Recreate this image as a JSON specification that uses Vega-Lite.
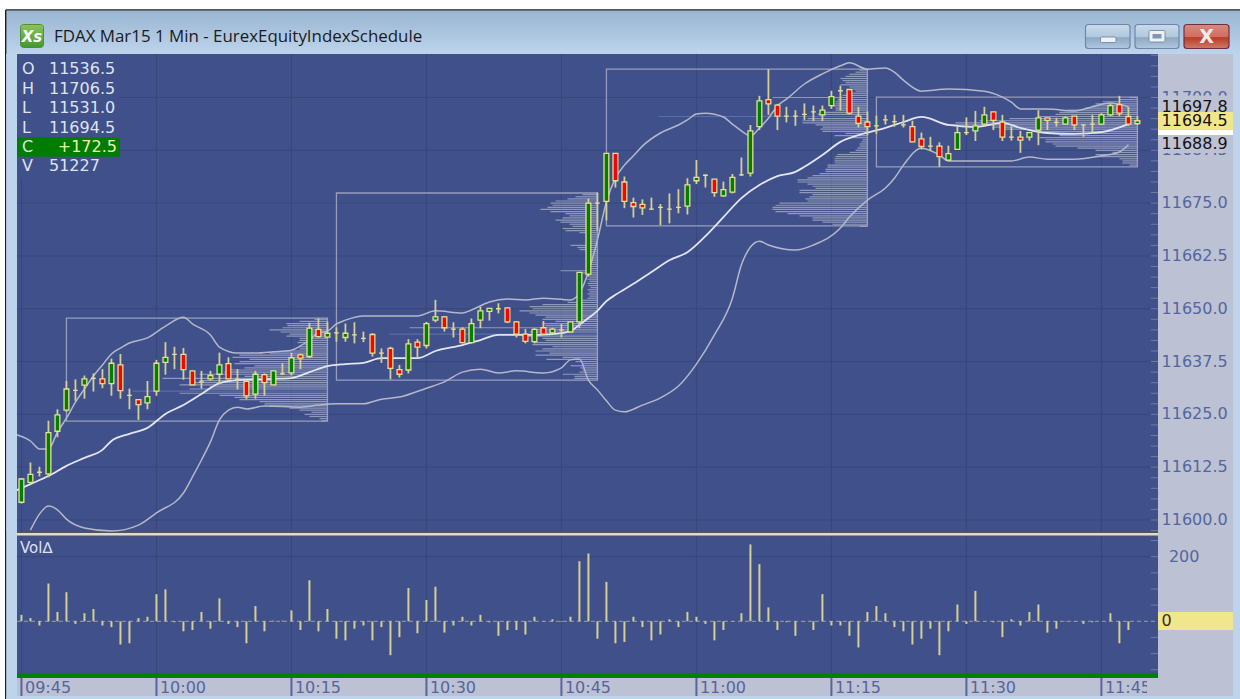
{"$schema":"https://vega.github.io/schema/vega-lite/v6.json","width":1240,"height":699,"padding":0,"autosize":{"type":"fit","contains":"padding"},"background":"#ffffff","view":{"fill":"#bcc2d3","stroke":null},"data":{"values":[{}]},"resolve":{"scale":{"x":"independent","y":"independent"}},
"layer":[
{"layer":[
{"mark":{"type":"rect","color":"#ffffff"},"encoding":{"x":{"datum":0,"axis":null,"scale":{"domain":[0,1240],"nice":false,"zero":false}},"x2":{"datum":1240},"y":{"datum":0,"axis":null,"scale":{"domain":[699,0],"nice":false,"zero":false}},"y2":{"datum":9.5}}},
{"mark":{"type":"rect","color":"#ffffff"},"encoding":{"x":{"datum":0,"axis":null},"x2":{"datum":5},"y":{"datum":0,"axis":null},"y2":{"datum":699}}},
{"mark":{"type":"rect","color":{"gradient":"linear","x1":0,"y1":0,"x2":0,"y2":1,"stops":[{"offset":0,"color":"#99b5d1"},{"offset":1,"color":"#bdd4ec"}]}},"encoding":{"x":{"datum":6,"axis":null},"x2":{"datum":1240},"y":{"datum":10,"axis":null},"y2":{"datum":54}}},
{"mark":{"type":"rect","color":"#2a2a2a"},"encoding":{"x":{"datum":6,"axis":null},"x2":{"datum":1240},"y":{"datum":9.2,"axis":null},"y2":{"datum":10.4}}},
{"mark":{"type":"rect","color":"#1e1e1e"},"encoding":{"x":{"datum":5,"axis":null},"x2":{"datum":6.4},"y":{"datum":10,"axis":null},"y2":{"datum":699}}},
{"mark":{"type":"rect","color":"#bdd4ec"},"encoding":{"x":{"datum":6.4,"axis":null},"x2":{"datum":17},"y":{"datum":54,"axis":null},"y2":{"datum":699}}},
{"mark":{"type":"rect","color":"#bdd4ec"},"encoding":{"x":{"datum":1233,"axis":null},"x2":{"datum":1240},"y":{"datum":54,"axis":null},"y2":{"datum":699}}},
{"mark":{"type":"rect","color":"#bdd4ec"},"encoding":{"x":{"datum":6.4,"axis":null},"x2":{"datum":1240},"y":{"datum":696,"axis":null},"y2":{"datum":699}}},
{"mark":{"type":"rect","color":"#40508a"},"encoding":{"x":{"datum":17,"axis":null},"x2":{"datum":1158},"y":{"datum":54,"axis":null},"y2":{"datum":678}}}
]},
{"layer":[
{"data":{"values":[{"t":"09:45"},{"t":"10:00"},{"t":"10:15"},{"t":"10:30"},{"t":"10:45"},{"t":"11:00"},{"t":"11:15"},{"t":"11:30"},{"t":"11:45"}],"format":{"parse":{"t":"date:'%H:%M'"}}},"layer":[
{"mark":{"type":"rule","color":"#38467a","strokeWidth":1},"encoding":{"x":{"field":"t","type":"temporal","axis":null,"scale":{"type":"time","nice":false,"domain":[{"year":1900,"month":1,"date":1,"hours":9,"minutes":42,"seconds":37},{"year":1900,"month":1,"date":1,"hours":12,"minutes":0,"seconds":24}]}},"y":{"datum":11710.3,"axis":null,"scale":{"domain":[11557.63,11723.08],"nice":false,"zero":false}},"y2":{"datum":11563.8}}},
{"mark":{"type":"rule","color":"#5565a0","strokeWidth":2},"encoding":{"x":{"field":"t","type":"temporal","axis":null},"y":{"datum":11562.6,"axis":null},"y2":{"datum":11558.34}}},
{"mark":{"type":"text","align":"left","baseline":"middle","dx":3.5,"font":"DejaVu Sans","fontSize":16,"color":"#5565a0"},"encoding":{"text":{"field":"t","type":"temporal","format":"%H:%M"},"x":{"field":"t","type":"temporal","axis":null},"y":{"datum":11560.2,"axis":null}}}
]},
{"data":{"values":[{"p":11600},{"p":11612.5},{"p":11625},{"p":11637.5},{"p":11650},{"p":11662.5},{"p":11675},{"p":11687.5},{"p":11700}]},"layer":[
{"mark":{"type":"rule","color":"#38467a","strokeWidth":1},"encoding":{"y":{"field":"p","type":"quantitative","axis":null},"x":{"datum":{"year":1900,"month":1,"date":1,"hours":9,"minutes":44,"seconds":30},"type":"temporal","axis":null},"x2":{"datum":{"year":1900,"month":1,"date":1,"hours":11,"minutes":51,"seconds":17}}}},
{"mark":{"type":"text","align":"left","baseline":"middle","font":"DejaVu Sans","fontSize":16,"color":"#5565a0"},"encoding":{"text":{"field":"p","type":"quantitative","format":".1f"},"y":{"field":"p","type":"quantitative","axis":null},"x":{"datum":{"year":1900,"month":1,"date":1,"hours":11,"minutes":51,"seconds":41},"type":"temporal","axis":null}}}
]},
{"data":{"values":[{"p":11597.5},{"p":11600},{"p":11602.5},{"p":11605},{"p":11607.5},{"p":11610},{"p":11612.5},{"p":11615},{"p":11617.5},{"p":11620},{"p":11622.5},{"p":11625},{"p":11627.5},{"p":11630},{"p":11632.5},{"p":11635},{"p":11637.5},{"p":11640},{"p":11642.5},{"p":11645},{"p":11647.5},{"p":11650},{"p":11652.5},{"p":11655},{"p":11657.5},{"p":11660},{"p":11662.5},{"p":11665},{"p":11667.5},{"p":11670},{"p":11672.5},{"p":11675},{"p":11677.5},{"p":11680},{"p":11682.5},{"p":11685},{"p":11687.5},{"p":11690},{"p":11692.5},{"p":11695},{"p":11697.5},{"p":11700},{"p":11702.5},{"p":11705},{"p":11707.5},{"p":11710}]},"mark":{"type":"rule","color":"#6f7ba6","strokeWidth":1},"encoding":{"y":{"field":"p","type":"quantitative","axis":null},"x":{"datum":{"year":1900,"month":1,"date":1,"hours":11,"minutes":50,"seconds":30},"type":"temporal","axis":null},"x2":{"datum":{"year":1900,"month":1,"date":1,"hours":11,"minutes":51,"seconds":17}}}}
]},
{"layer":[
{"mark":{"type":"rect","color":"#bcc2d3"},"encoding":{"x":{"datum":1147,"axis":null,"scale":{"domain":[0,1240],"nice":false,"zero":false}},"x2":{"datum":1233},"y":{"datum":678,"axis":null,"scale":{"domain":[699,0],"nice":false,"zero":false}},"y2":{"datum":696}}},
{"mark":{"type":"rect","color":"#555555"},"encoding":{"x":{"datum":17,"axis":null},"x2":{"datum":1158},"y":{"datum":531.4,"axis":null},"y2":{"datum":536.6}}},
{"mark":{"type":"rect","color":"#dcdcd2"},"encoding":{"x":{"datum":17,"axis":null},"x2":{"datum":1158},"y":{"datum":533,"axis":null},"y2":{"datum":535.4}}},
{"mark":{"type":"rect","color":"#008000"},"encoding":{"x":{"datum":17,"axis":null},"x2":{"datum":1158},"y":{"datum":673.4,"axis":null},"y2":{"datum":677.8}}},
{"mark":{"type":"rect","color":"#f0e68c"},"encoding":{"x":{"datum":1158,"axis":null},"x2":{"datum":1233},"y":{"datum":612,"axis":null},"y2":{"datum":630}}}
]},
{"layer":[
{"data":{"values":[{"v":200}]},"layer":[
{"mark":{"type":"rule","color":"#38467a","strokeWidth":1},"encoding":{"y":{"field":"v","type":"quantitative","axis":null,"scale":{"domain":[-240.6,1923.5],"nice":false,"zero":false}},"x":{"datum":{"year":1900,"month":1,"date":1,"hours":9,"minutes":44,"seconds":30},"type":"temporal","axis":null,"scale":{"type":"time","nice":false,"domain":[{"year":1900,"month":1,"date":1,"hours":9,"minutes":42,"seconds":37},{"year":1900,"month":1,"date":1,"hours":12,"minutes":0,"seconds":24}]}},"x2":{"datum":{"year":1900,"month":1,"date":1,"hours":11,"minutes":51,"seconds":17}}}},
{"mark":{"type":"text","align":"left","baseline":"middle","font":"DejaVu Sans","fontSize":16,"color":"#5565a0"},"encoding":{"text":{"field":"v","type":"quantitative"},"y":{"field":"v","type":"quantitative","axis":null},"x":{"datum":{"year":1900,"month":1,"date":1,"hours":11,"minutes":52,"seconds":30},"type":"temporal","axis":null}}}
]},
{"data":{"values":[{"v":250},{"v":200},{"v":150},{"v":100},{"v":50},{"v":-50},{"v":-100},{"v":-150}]},"mark":{"type":"rule","color":"#6f7ba6","strokeWidth":1},"encoding":{"y":{"field":"v","type":"quantitative","axis":null},"x":{"datum":{"year":1900,"month":1,"date":1,"hours":11,"minutes":50,"seconds":30},"type":"temporal","axis":null},"x2":{"datum":{"year":1900,"month":1,"date":1,"hours":11,"minutes":51,"seconds":17}}}},
{"mark":{"type":"rule","color":"#9a9fb0","strokeWidth":1,"strokeDash":[4,3]},"encoding":{"y":{"datum":0,"axis":null},"x":{"datum":{"year":1900,"month":1,"date":1,"hours":9,"minutes":44,"seconds":30},"type":"temporal","axis":null},"x2":{"datum":{"year":1900,"month":1,"date":1,"hours":11,"minutes":51,"seconds":17}}}},
{"data":{"values":[{"t":"09:45","v":20},{"t":"09:46","v":10},{"t":"09:47","v":-13},{"t":"09:48","v":117},{"t":"09:49","v":29},{"t":"09:50","v":90},{"t":"09:51","v":-8},{"t":"09:52","v":25},{"t":"09:53","v":38},{"t":"09:54","v":-13},{"t":"09:55","v":-18},{"t":"09:56","v":-72},{"t":"09:57","v":-68},{"t":"09:58","v":10},{"t":"09:59","v":14},{"t":"10:00","v":84},{"t":"10:01","v":99},{"t":"10:02","v":-3},{"t":"10:03","v":-31},{"t":"10:04","v":-27},{"t":"10:05","v":29},{"t":"10:06","v":-23},{"t":"10:07","v":71},{"t":"10:08","v":-8},{"t":"10:09","v":-18},{"t":"10:10","v":-68},{"t":"10:11","v":47},{"t":"10:12","v":-31},{"t":"10:13","v":2},{"t":"10:14","v":2},{"t":"10:15","v":34},{"t":"10:16","v":-27},{"t":"10:17","v":127},{"t":"10:18","v":-31},{"t":"10:19","v":38},{"t":"10:20","v":-54},{"t":"10:21","v":-59},{"t":"10:22","v":-23},{"t":"10:23","v":-13},{"t":"10:24","v":-59},{"t":"10:25","v":-18},{"t":"10:26","v":-105},{"t":"10:27","v":-49},{"t":"10:28","v":103},{"t":"10:29","v":-37},{"t":"10:30","v":66},{"t":"10:31","v":107},{"t":"10:32","v":-35},{"t":"10:33","v":-13},{"t":"10:34","v":14},{"t":"10:35","v":-13},{"t":"10:36","v":20},{"t":"10:37","v":-3},{"t":"10:38","v":-45},{"t":"10:39","v":-27},{"t":"10:40","v":-27},{"t":"10:41","v":-41},{"t":"10:42","v":14},{"t":"10:43","v":-1},{"t":"10:44","v":6},{"t":"10:45","v":-2},{"t":"10:46","v":14},{"t":"10:47","v":186},{"t":"10:48","v":210},{"t":"10:49","v":-54},{"t":"10:50","v":122},{"t":"10:51","v":-68},{"t":"10:52","v":-64},{"t":"10:53","v":14},{"t":"10:54","v":-18},{"t":"10:55","v":-59},{"t":"10:56","v":-41},{"t":"10:57","v":6},{"t":"10:58","v":-18},{"t":"10:59","v":29},{"t":"11:00","v":14},{"t":"11:01","v":-8},{"t":"11:02","v":-59},{"t":"11:03","v":-27},{"t":"11:04","v":-1},{"t":"11:05","v":25},{"t":"11:06","v":238},{"t":"11:07","v":177},{"t":"11:08","v":43},{"t":"11:09","v":-27},{"t":"11:10","v":-3},{"t":"11:11","v":-45},{"t":"11:12","v":-1},{"t":"11:13","v":-27},{"t":"11:14","v":84},{"t":"11:15","v":-13},{"t":"11:16","v":-13},{"t":"11:17","v":-45},{"t":"11:18","v":-81},{"t":"11:19","v":29},{"t":"11:20","v":47},{"t":"11:21","v":25},{"t":"11:22","v":-18},{"t":"11:23","v":-31},{"t":"11:24","v":-72},{"t":"11:25","v":-54},{"t":"11:26","v":-23},{"t":"11:27","v":-105},{"t":"11:28","v":-31},{"t":"11:29","v":52},{"t":"11:30","v":-8},{"t":"11:31","v":94},{"t":"11:32","v":-1},{"t":"11:33","v":-3},{"t":"11:34","v":-49},{"t":"11:35","v":6},{"t":"11:36","v":-13},{"t":"11:37","v":29},{"t":"11:38","v":52},{"t":"11:39","v":-35},{"t":"11:40","v":-23},{"t":"11:41","v":-1},{"t":"11:42","v":-1},{"t":"11:43","v":-8},{"t":"11:44","v":-3},{"t":"11:45","v":0},{"t":"11:46","v":25},{"t":"11:47","v":-68},{"t":"11:48","v":-27},{"t":"11:49","v":0}],"format":{"parse":{"t":"date:'%H:%M'"}}},"mark":{"type":"rule","color":"#d6cf92","strokeWidth":2},"encoding":{"x":{"field":"t","type":"temporal","axis":null},"y":{"field":"v","type":"quantitative","axis":null},"y2":{"datum":0}}},
{"mark":{"type":"text","text":"0","align":"left","baseline":"middle","font":"DejaVu Sans","fontSize":16,"color":"#3a2a24"},"encoding":{"y":{"datum":0,"axis":null},"x":{"datum":{"year":1900,"month":1,"date":1,"hours":11,"minutes":51,"seconds":41},"type":"temporal","axis":null}}}
]},
{"data":{"values":[{"p":11647.5,"v":13},{"p":11647,"v":28},{"p":11646.5,"v":41},{"p":11646,"v":40},{"p":11645.5,"v":45},{"p":11645,"v":58},{"p":11644.5,"v":47},{"p":11644,"v":38},{"p":11643.5,"v":41},{"p":11643,"v":28},{"p":11642.5,"v":28},{"p":11642,"v":30},{"p":11641.5,"v":23},{"p":11641,"v":28},{"p":11640.5,"v":28},{"p":11640,"v":43},{"p":11639.5,"v":58},{"p":11639,"v":88},{"p":11638.5,"v":95},{"p":11638,"v":78},{"p":11637.5,"v":88},{"p":11637,"v":93},{"p":11636.5,"v":73},{"p":11636,"v":83},{"p":11635.5,"v":98},{"p":11635,"v":103},{"p":11634.5,"v":128},{"p":11634,"v":83},{"p":11633.5,"v":165},{"p":11633,"v":128},{"p":11632.5,"v":138},{"p":11632,"v":148},{"p":11631.5,"v":118},{"p":11631,"v":138},{"p":11630.5,"v":195,"poc":1},{"p":11630,"v":148},{"p":11629.5,"v":108},{"p":11629,"v":93},{"p":11628.5,"v":88},{"p":11628,"v":68},{"p":11627.5,"v":63},{"p":11627,"v":58},{"p":11626.5,"v":38},{"p":11626,"v":28},{"p":11625.5,"v":16},{"p":11625,"v":23},{"p":11624.5,"v":18},{"p":11624,"v":8},{"p":11623.5,"v":6}]},"mark":{"type":"rule","strokeWidth":1.2,"opacity":0.7},"encoding":{"x":{"field":"v","type":"quantitative","axis":null,"scale":{"domain":[327.5,-912.5],"nice":false,"zero":false}},"x2":{"datum":0},"y":{"field":"p","type":"quantitative","axis":null,"scale":{"domain":[11557.63,11723.08],"nice":false,"zero":false}},"color":{"condition":{"test":"datum.poc","value":"#5f7fb8"},"value":"#b4b8cc"}}},
{"data":{"values":[{"p":11677,"v":15},{"p":11676.5,"v":22},{"p":11676,"v":30},{"p":11675.5,"v":42},{"p":11675,"v":47},{"p":11674.5,"v":45},{"p":11674,"v":50},{"p":11673.5,"v":57},{"p":11673,"v":47},{"p":11672.5,"v":32},{"p":11672,"v":28},{"p":11671.5,"v":35},{"p":11671,"v":42},{"p":11670.5,"v":37},{"p":11670,"v":28},{"p":11669.5,"v":25},{"p":11669,"v":35},{"p":11668.5,"v":32},{"p":11668,"v":18},{"p":11667.5,"v":12},{"p":11667,"v":12},{"p":11666.5,"v":12},{"p":11666,"v":12},{"p":11665.5,"v":12},{"p":11665,"v":27},{"p":11664.5,"v":20},{"p":11664,"v":18},{"p":11663.5,"v":12},{"p":11663,"v":10},{"p":11662.5,"v":10},{"p":11662,"v":9},{"p":11661.5,"v":10},{"p":11661,"v":8},{"p":11660.5,"v":10},{"p":11660,"v":9},{"p":11659.5,"v":10},{"p":11659,"v":37},{"p":11658.5,"v":18},{"p":11658,"v":12},{"p":11657.5,"v":8},{"p":11657,"v":10},{"p":11656.5,"v":8},{"p":11656,"v":10},{"p":11655.5,"v":9},{"p":11655,"v":7},{"p":11654.5,"v":10},{"p":11654,"v":8},{"p":11653.5,"v":10},{"p":11653,"v":8},{"p":11652.5,"v":10},{"p":11652,"v":15},{"p":11651.5,"v":30},{"p":11651,"v":55},{"p":11650.5,"v":68},{"p":11650,"v":65},{"p":11649.5,"v":78},{"p":11649,"v":68},{"p":11648.5,"v":62},{"p":11648,"v":52},{"p":11647.5,"v":55},{"p":11647,"v":42},{"p":11646.5,"v":55},{"p":11646,"v":52},{"p":11645.5,"v":188},{"p":11645,"v":65},{"p":11644.5,"v":68},{"p":11644,"v":208,"poc":1},{"p":11643.5,"v":75},{"p":11643,"v":55},{"p":11642.5,"v":52},{"p":11642,"v":63},{"p":11641.5,"v":65},{"p":11641,"v":45},{"p":11640.5,"v":55},{"p":11640,"v":62},{"p":11639.5,"v":48},{"p":11639,"v":62},{"p":11638.5,"v":35},{"p":11638,"v":51},{"p":11637.5,"v":22},{"p":11637,"v":15},{"p":11636.5,"v":27},{"p":11636,"v":17},{"p":11635.5,"v":15},{"p":11635,"v":18},{"p":11634.5,"v":35},{"p":11634,"v":23},{"p":11633.5,"v":23}]},"mark":{"type":"rule","strokeWidth":1.2,"opacity":0.7},"encoding":{"x":{"field":"v","type":"quantitative","axis":null,"scale":{"domain":[597.5,-642.5],"nice":false,"zero":false}},"x2":{"datum":0},"y":{"field":"p","type":"quantitative","axis":null,"scale":{"domain":[11557.63,11723.08],"nice":false,"zero":false}},"color":{"condition":{"test":"datum.poc","value":"#5f7fb8"},"value":"#b4b8cc"}}},
{"data":{"values":[{"p":11706.5,"v":8},{"p":11706,"v":12},{"p":11705.5,"v":18},{"p":11705,"v":22},{"p":11704.5,"v":27},{"p":11704,"v":25},{"p":11703.5,"v":22},{"p":11703,"v":27},{"p":11702.5,"v":18},{"p":11702,"v":15},{"p":11701.5,"v":12},{"p":11701,"v":15},{"p":11700.5,"v":25},{"p":11700,"v":95},{"p":11699.5,"v":30},{"p":11699,"v":32},{"p":11698.5,"v":32},{"p":11698,"v":35},{"p":11697.5,"v":32},{"p":11697,"v":32},{"p":11696.5,"v":45},{"p":11696,"v":50},{"p":11695.5,"v":209,"poc":1},{"p":11695,"v":60},{"p":11694.5,"v":65},{"p":11694,"v":65},{"p":11693.5,"v":52},{"p":11693,"v":45},{"p":11692.5,"v":47},{"p":11692,"v":45},{"p":11691.5,"v":22},{"p":11691,"v":33},{"p":11690.5,"v":15},{"p":11690,"v":5},{"p":11689.5,"v":6},{"p":11689,"v":8},{"p":11688.5,"v":8},{"p":11688,"v":10},{"p":11687.5,"v":12},{"p":11687,"v":18},{"p":11686.5,"v":30},{"p":11686,"v":32},{"p":11685.5,"v":33},{"p":11685,"v":33},{"p":11684.5,"v":33},{"p":11684,"v":40},{"p":11683.5,"v":40},{"p":11683,"v":42},{"p":11682.5,"v":42},{"p":11682,"v":48},{"p":11681.5,"v":55},{"p":11681,"v":60},{"p":11680.5,"v":70},{"p":11680,"v":70},{"p":11679.5,"v":60},{"p":11679,"v":55},{"p":11678.5,"v":52},{"p":11678,"v":68},{"p":11677.5,"v":68},{"p":11677,"v":55},{"p":11676.5,"v":58},{"p":11676,"v":62},{"p":11675.5,"v":60},{"p":11675,"v":88},{"p":11674.5,"v":92},{"p":11674,"v":95},{"p":11673.5,"v":95},{"p":11673,"v":92},{"p":11672.5,"v":80},{"p":11672,"v":68},{"p":11671.5,"v":55},{"p":11671,"v":55},{"p":11670.5,"v":45},{"p":11670,"v":35},{"p":11669.5,"v":8}]},"mark":{"type":"rule","strokeWidth":1.2,"opacity":0.7},"encoding":{"x":{"field":"v","type":"quantitative","axis":null,"scale":{"domain":[867.5,-372.5],"nice":false,"zero":false}},"x2":{"datum":0},"y":{"field":"p","type":"quantitative","axis":null,"scale":{"domain":[11557.63,11723.08],"nice":false,"zero":false}},"color":{"condition":{"test":"datum.poc","value":"#5f7fb8"},"value":"#b4b8cc"}}},
{"data":{"values":[{"p":11700,"v":8},{"p":11699.5,"v":18},{"p":11699,"v":35},{"p":11698.5,"v":42},{"p":11698,"v":45},{"p":11697.5,"v":52},{"p":11697,"v":70},{"p":11696.5,"v":78},{"p":11696,"v":82},{"p":11695.5,"v":100},{"p":11695,"v":128},{"p":11694.5,"v":158},{"p":11694,"v":182},{"p":11693.5,"v":192},{"p":11693,"v":145},{"p":11692.5,"v":135},{"p":11692,"v":105},{"p":11691.5,"v":85},{"p":11691,"v":78},{"p":11690.5,"v":98},{"p":11690,"v":92},{"p":11689.5,"v":92},{"p":11689,"v":85},{"p":11688.5,"v":82},{"p":11688,"v":60},{"p":11687.5,"v":42},{"p":11687,"v":25},{"p":11686.5,"v":42},{"p":11686,"v":42},{"p":11685.5,"v":18},{"p":11685,"v":15},{"p":11684.5,"v":15},{"p":11684,"v":8}]},"mark":{"type":"rule","strokeWidth":1.2,"opacity":0.7},"encoding":{"x":{"field":"v","type":"quantitative","axis":null,"scale":{"domain":[1137.5,-102.5],"nice":false,"zero":false}},"x2":{"datum":0},"y":{"field":"p","type":"quantitative","axis":null,"scale":{"domain":[11557.63,11723.08],"nice":false,"zero":false}},"color":{"value":"#b4b8cc"}}},
{"layer":[
{"data":{"values":[{"s":"09:50","e":"10:19","hi":11647.8,"lo":11623.4},{"s":"10:20","e":"10:49","hi":11677.4,"lo":11633.1},{"s":"10:50","e":"11:19","hi":11706.7,"lo":11669.6},{"s":"11:20","e":"11:49","hi":11700.1,"lo":11683.6}],"format":{"parse":{"s":"date:'%H:%M'","e":"date:'%H:%M'"}}},"mark":{"type":"rect","fill":"transparent","stroke":"#a6abc4","strokeWidth":1.3,"strokeOpacity":0.85},"encoding":{"x":{"field":"s","type":"temporal","axis":null,"scale":{"type":"time","nice":false,"domain":[{"year":1900,"month":1,"date":1,"hours":9,"minutes":42,"seconds":37},{"year":1900,"month":1,"date":1,"hours":12,"minutes":0,"seconds":24}]}},"x2":{"field":"e"},"y":{"field":"hi","type":"quantitative","axis":null,"scale":{"domain":[11557.63,11723.08],"nice":false,"zero":false}},"y2":{"field":"lo"}}},
{"data":{"values":[{"t":"09:44","p":11620.4},{"t":"09:46","p":11618.7},{"t":"09:47","p":11616.8},{"t":"09:48","p":11616.8},{"t":"09:49","p":11620.8},{"t":"09:50","p":11624.1},{"t":"09:51","p":11627.9},{"t":"09:52","p":11631},{"t":"09:53","p":11634.1},{"t":"09:54","p":11636.7},{"t":"09:55","p":11639.3},{"t":"09:56","p":11640.7},{"t":"09:57","p":11641.9},{"t":"09:59","p":11643.1},{"t":"10:01","p":11645.9},{"t":"10:03","p":11648},{"t":"10:04","p":11646.4},{"t":"10:06","p":11643.8},{"t":"10:07","p":11640.9},{"t":"10:09","p":11639.5},{"t":"10:11","p":11639.5},{"t":"10:13","p":11639.8},{"t":"10:15","p":11640.2},{"t":"10:16","p":11641.2},{"t":"10:17","p":11642.6},{"t":"10:18","p":11644.3},{"t":"10:19","p":11644.7},{"t":"10:20","p":11646.4},{"t":"10:21","p":11647.3},{"t":"10:23","p":11648.3},{"t":"10:29","p":11648.3},{"t":"10:31","p":11649.5},{"t":"10:34","p":11649},{"t":"10:35","p":11649.7},{"t":"10:37","p":11651.6},{"t":"10:39","p":11652.3},{"t":"10:41","p":11652.1},{"t":"10:43","p":11652.5},{"t":"10:46","p":11652.1},{"t":"10:47","p":11653.7},{"t":"10:48","p":11658.7},{"t":"10:49","p":11666.3},{"t":"10:50","p":11675.3},{"t":"10:51","p":11680.9},{"t":"10:52","p":11684},{"t":"10:53","p":11686.2},{"t":"10:54","p":11688.5},{"t":"10:56","p":11691.6},{"t":"10:58","p":11693.5},{"t":"10:59","p":11694.7},{"t":"11:00","p":11696.1},{"t":"11:01","p":11696.3},{"t":"11:03","p":11695.4},{"t":"11:04","p":11693.7},{"t":"11:05","p":11692.1},{"t":"11:06","p":11690.9},{"t":"11:07","p":11692.8},{"t":"11:08","p":11695.1},{"t":"11:09","p":11698},{"t":"11:10","p":11699.6},{"t":"11:12","p":11703.2},{"t":"11:14","p":11705.6},{"t":"11:16","p":11707.5},{"t":"11:17","p":11708.2},{"t":"11:19","p":11706.7},{"t":"11:21","p":11707},{"t":"11:22","p":11706},{"t":"11:23","p":11704.1},{"t":"11:25","p":11701.5},{"t":"11:28","p":11702},{"t":"11:32","p":11701.5},{"t":"11:34","p":11700.1},{"t":"11:35","p":11698.9},{"t":"11:36","p":11697.3},{"t":"11:39","p":11697.3},{"t":"11:42","p":11696.8},{"t":"11:44","p":11697.8},{"t":"11:46","p":11698.7},{"t":"11:48","p":11697.8}],"format":{"parse":{"t":"date:'%H:%M'"}}},"mark":{"type":"line","color":"#b3b8ca","strokeWidth":1.5,"interpolate":"monotone"},"encoding":{"x":{"field":"t","type":"temporal","axis":null},"y":{"field":"p","type":"quantitative","axis":null}}},
{"data":{"values":[{"t":"09:46","p":11597.6},{"t":"09:47","p":11601.4},{"t":"09:48","p":11603.3},{"t":"09:49","p":11602.4},{"t":"09:50","p":11600.2},{"t":"09:52","p":11598.1},{"t":"09:55","p":11597.4},{"t":"09:58","p":11598.8},{"t":"10:00","p":11601.7},{"t":"10:03","p":11606.4},{"t":"10:04","p":11610.2},{"t":"10:05","p":11614.2},{"t":"10:06","p":11618.5},{"t":"10:07","p":11623.7},{"t":"10:08","p":11626},{"t":"10:09","p":11626.7},{"t":"10:10","p":11626.3},{"t":"10:12","p":11627},{"t":"10:16","p":11626.7},{"t":"10:18","p":11627.2},{"t":"10:20","p":11627.5},{"t":"10:23","p":11627.5},{"t":"10:25","p":11628.6},{"t":"10:27","p":11629.1},{"t":"10:30","p":11631.2},{"t":"10:32","p":11632.7},{"t":"10:34","p":11635},{"t":"10:36","p":11635.7},{"t":"10:38","p":11634.8},{"t":"10:40","p":11635.3},{"t":"10:43","p":11634.8},{"t":"10:45","p":11636},{"t":"10:46","p":11637.9},{"t":"10:47","p":11638.1},{"t":"10:48","p":11633.1},{"t":"10:49","p":11630.8},{"t":"10:50","p":11628.2},{"t":"10:51","p":11626},{"t":"10:52","p":11625.6},{"t":"10:54","p":11627.2},{"t":"10:56","p":11628.9},{"t":"10:58","p":11631.7},{"t":"11:00","p":11636.9},{"t":"11:02","p":11643.8},{"t":"11:04","p":11652.5},{"t":"11:05","p":11660.4},{"t":"11:06","p":11664.6},{"t":"11:07","p":11666},{"t":"11:08","p":11665.1},{"t":"11:11","p":11663.9},{"t":"11:13","p":11665.1},{"t":"11:16","p":11669.1},{"t":"11:17","p":11671.7},{"t":"11:19","p":11675.7},{"t":"11:21","p":11678.6},{"t":"11:22","p":11680.9},{"t":"11:23","p":11684},{"t":"11:25","p":11688},{"t":"11:27","p":11686.4},{"t":"11:28","p":11685},{"t":"11:33","p":11685},{"t":"11:35","p":11685},{"t":"11:37","p":11685.9},{"t":"11:39","p":11685.4},{"t":"11:42","p":11685.4},{"t":"11:45","p":11686.2},{"t":"11:47","p":11687.1},{"t":"11:48","p":11688.8}],"format":{"parse":{"t":"date:'%H:%M'"}}},"mark":{"type":"line","color":"#b3b8ca","strokeWidth":1.5,"interpolate":"monotone"},"encoding":{"x":{"field":"t","type":"temporal","axis":null},"y":{"field":"p","type":"quantitative","axis":null}}},
{"data":{"values":[{"t":"09:44","p":11606.6},{"t":"09:46","p":11608.5},{"t":"09:48","p":11610.4},{"t":"09:50","p":11612.8},{"t":"09:52","p":11614.7},{"t":"09:54","p":11616.6},{"t":"09:55","p":11618.7},{"t":"09:57","p":11620.4},{"t":"09:59","p":11621.8},{"t":"10:01","p":11625.1},{"t":"10:03","p":11627.2},{"t":"10:05","p":11629.8},{"t":"10:07","p":11632.4},{"t":"10:09","p":11633.1},{"t":"10:13","p":11633.4},{"t":"10:15","p":11633.6},{"t":"10:17","p":11635},{"t":"10:19","p":11636.4},{"t":"10:21","p":11636.9},{"t":"10:23","p":11637.2},{"t":"10:25","p":11638.3},{"t":"10:29","p":11638.3},{"t":"10:31","p":11640},{"t":"10:34","p":11641.4},{"t":"10:36","p":11642.6},{"t":"10:38","p":11643.8},{"t":"10:41","p":11643.8},{"t":"10:44","p":11644},{"t":"10:46","p":11644.7},{"t":"10:47","p":11646.2},{"t":"10:48","p":11647.8},{"t":"10:49","p":11649.5},{"t":"10:50","p":11651.8},{"t":"10:51","p":11653.3},{"t":"10:53","p":11655.9},{"t":"10:55","p":11658.7},{"t":"10:57","p":11661.5},{"t":"10:59","p":11663.4},{"t":"11:01","p":11667.2},{"t":"11:03","p":11671.7},{"t":"11:05","p":11676.2},{"t":"11:07","p":11679.3},{"t":"11:09","p":11681.4},{"t":"11:11","p":11682.4},{"t":"11:12","p":11683.6},{"t":"11:14","p":11686.4},{"t":"11:16","p":11689.5},{"t":"11:18","p":11691.1},{"t":"11:21","p":11692.8},{"t":"11:23","p":11694.2},{"t":"11:25","p":11695.4},{"t":"11:28","p":11693.5},{"t":"11:31","p":11693},{"t":"11:34","p":11694},{"t":"11:36","p":11692.8},{"t":"11:39","p":11691.6},{"t":"11:42","p":11691.4},{"t":"11:45","p":11691.8},{"t":"11:48","p":11693.7}],"format":{"parse":{"t":"date:'%H:%M'"}}},"mark":{"type":"line","color":"#e2e5f3","strokeWidth":1.8,"interpolate":"monotone"},"encoding":{"x":{"field":"t","type":"temporal","axis":null},"y":{"field":"p","type":"quantitative","axis":null}}},
{"data":{"values":[
{"t":"09:45","o":11604.2,"h":11609.9,"l":11603.9,"c":11609.7},{"t":"09:46","o":11608.9,"h":11613.6,"l":11608.5,"c":11610.8},{"t":"09:47","o":11611.3,"h":11612.6,"l":11610.3,"c":11611.3},{"t":"09:48","o":11610.9,"h":11623.5,"l":11610.1,"c":11620.7},{"t":"09:49","o":11621,"h":11626.2,"l":11619.6,"c":11624.9},{"t":"09:50","o":11626,"h":11632.9,"l":11625.6,"c":11631},{"t":"09:51","o":11630.7,"h":11633.3,"l":11628.2,"c":11630.7},{"t":"09:52","o":11631.9,"h":11634.2,"l":11628.7,"c":11633.4},{"t":"09:53","o":11633.5,"h":11634.7,"l":11630.4,"c":11633.5},{"t":"09:54","o":11633.4,"h":11635.7,"l":11631.2,"c":11632.3},{"t":"09:55","o":11632.3,"h":11638.2,"l":11629.4,"c":11637.1},{"t":"09:56","o":11636.7,"h":11639.3,"l":11628.7,"c":11630.6},{"t":"09:57","o":11629.5,"h":11631.1,"l":11626.2,"c":11629.5},{"t":"09:58","o":11628.5,"h":11628.5,"l":11623.7,"c":11627.3},{"t":"09:59","o":11627.7,"h":11632.9,"l":11626.2,"c":11629.2},{"t":"10:00","o":11630.5,"h":11637.9,"l":11629.4,"c":11637.1},{"t":"10:01","o":11637.3,"h":11642.1,"l":11634.4,"c":11638.5},{"t":"10:02","o":11639.2,"h":11641,"l":11635.7,"c":11639.2},{"t":"10:03","o":11639.2,"h":11640.7,"l":11633.2,"c":11635.6},{"t":"10:04","o":11635.3,"h":11635.3,"l":11631.9,"c":11632},{"t":"10:05","o":11632.7,"h":11635.3,"l":11631.1,"c":11632.7},{"t":"10:06","o":11633.4,"h":11635.3,"l":11633,"c":11634.2},{"t":"10:07","o":11634.5,"h":11639.6,"l":11632.2,"c":11636.7},{"t":"10:08","o":11637,"h":11638.5,"l":11633.3,"c":11633.4},{"t":"10:09","o":11633.3,"h":11635.7,"l":11630.9,"c":11633.3},{"t":"10:10","o":11632.8,"h":11633.1,"l":11628.6,"c":11629.4},{"t":"10:11","o":11629.8,"h":11635.3,"l":11628.7,"c":11634.5},{"t":"10:12","o":11634.4,"h":11634.7,"l":11629.4,"c":11632.5},{"t":"10:13","o":11632,"h":11635.3,"l":11632,"c":11635.3},{"t":"10:14","o":11634.6,"h":11637.1,"l":11634.3,"c":11634.6},{"t":"10:15","o":11634.8,"h":11639.6,"l":11634.2,"c":11638.4},{"t":"10:16","o":11639.1,"h":11639.4,"l":11635.7,"c":11638.3},{"t":"10:17","o":11638.7,"h":11646.7,"l":11638.3,"c":11645.4},{"t":"10:18","o":11645.1,"h":11647.7,"l":11643.2,"c":11643.4},{"t":"10:19","o":11643.3,"h":11646.9,"l":11643.2,"c":11644.2},{"t":"10:20","o":11644.3,"h":11645.6,"l":11642.2,"c":11644.3},{"t":"10:21","o":11643.2,"h":11646.5,"l":11642.2,"c":11644.2},{"t":"10:22","o":11643.8,"h":11646.8,"l":11641.8,"c":11643.8},{"t":"10:23","o":11643,"h":11644.6,"l":11642.1,"c":11643},{"t":"10:24","o":11643.9,"h":11644.2,"l":11638.7,"c":11639.5},{"t":"10:25","o":11639.5,"h":11640.6,"l":11637.2,"c":11639.5},{"t":"10:26","o":11640.6,"h":11641,"l":11633.3,"c":11635.9},{"t":"10:27","o":11635.6,"h":11636.7,"l":11633.7,"c":11634.5},{"t":"10:28","o":11635.5,"h":11642.8,"l":11634.7,"c":11641.7},{"t":"10:29","o":11642.1,"h":11642.8,"l":11638.3,"c":11640.9},{"t":"10:30","o":11641.3,"h":11646.9,"l":11640.6,"c":11646.5},{"t":"10:31","o":11647.3,"h":11652.1,"l":11646.8,"c":11648.1},{"t":"10:32","o":11648.1,"h":11648.3,"l":11644.6,"c":11645.5},{"t":"10:33","o":11645.2,"h":11646.8,"l":11643.2,"c":11645.2},{"t":"10:34","o":11645.2,"h":11645.6,"l":11641.8,"c":11642},{"t":"10:35","o":11642,"h":11647.7,"l":11641.8,"c":11646.5},{"t":"10:36","o":11647.3,"h":11650.5,"l":11645.4,"c":11649.5},{"t":"10:37","o":11649.4,"h":11650.1,"l":11647.2,"c":11650.1},{"t":"10:38","o":11650,"h":11651.3,"l":11648.9,"c":11650},{"t":"10:39","o":11650.2,"h":11650.3,"l":11646.6,"c":11646.9},{"t":"10:40","o":11646.9,"h":11647.1,"l":11643.2,"c":11644},{"t":"10:41","o":11644,"h":11645.2,"l":11641.8,"c":11642.3},{"t":"10:42","o":11642.2,"h":11645.4,"l":11641.8,"c":11645.1},{"t":"10:43","o":11645.5,"h":11647.1,"l":11643.8,"c":11644},{"t":"10:44","o":11644.3,"h":11645.5,"l":11644,"c":11645.2},{"t":"10:45","o":11645,"h":11646.4,"l":11643.2,"c":11645},{"t":"10:46","o":11644.5,"h":11646.9,"l":11644.5,"c":11646.9},{"t":"10:47","o":11646.9,"h":11658.6,"l":11645.4,"c":11658.6},{"t":"10:48","o":11658.2,"h":11676.1,"l":11657.6,"c":11675},{"t":"10:49","o":11675,"h":11677.5,"l":11668.5,"c":11675},{"t":"10:50","o":11675.4,"h":11686.8,"l":11670.9,"c":11686.8},{"t":"10:51","o":11686.8,"h":11686.8,"l":11678.7,"c":11680.3},{"t":"10:52","o":11680,"h":11681.3,"l":11673.8,"c":11675.4},{"t":"10:53","o":11675.1,"h":11676.3,"l":11671.6,"c":11674.2},{"t":"10:54","o":11674.7,"h":11675.9,"l":11672.2,"c":11673.9},{"t":"10:55","o":11673.6,"h":11676.3,"l":11673.4,"c":11673.6},{"t":"10:56","o":11674,"h":11674.8,"l":11669.8,"c":11674},{"t":"10:57","o":11673.6,"h":11677.3,"l":11670.2,"c":11673.6},{"t":"10:58","o":11674,"h":11678.3,"l":11672.6,"c":11674},{"t":"10:59","o":11674.3,"h":11680.9,"l":11672.3,"c":11679.3},{"t":"11:00","o":11680.3,"h":11685.2,"l":11679.5,"c":11681.1},{"t":"11:01","o":11681.6,"h":11681.8,"l":11678.7,"c":11681.6},{"t":"11:02","o":11680.7,"h":11680.7,"l":11676.5,"c":11677.5},{"t":"11:03","o":11676.7,"h":11680.1,"l":11676.5,"c":11678.2},{"t":"11:04","o":11677.6,"h":11681.9,"l":11677.3,"c":11681.1},{"t":"11:05","o":11681.7,"h":11685.8,"l":11681.4,"c":11681.7},{"t":"11:06","o":11682.1,"h":11693.5,"l":11681.3,"c":11692.1},{"t":"11:07","o":11693.1,"h":11700.4,"l":11692.3,"c":11699.2},{"t":"11:08","o":11699.5,"h":11706.7,"l":11695.9,"c":11698.5},{"t":"11:09","o":11698.2,"h":11698.5,"l":11692.3,"c":11695.6},{"t":"11:10","o":11695.6,"h":11697.8,"l":11694.1,"c":11695.6},{"t":"11:11","o":11695.6,"h":11697,"l":11693.3,"c":11695.6},{"t":"11:12","o":11696,"h":11698.6,"l":11694.7,"c":11696},{"t":"11:13","o":11696.6,"h":11698.1,"l":11694.4,"c":11696.6},{"t":"11:14","o":11695.9,"h":11698.1,"l":11694.4,"c":11697},{"t":"11:15","o":11698.1,"h":11701.6,"l":11697.3,"c":11700.2},{"t":"11:16","o":11701.6,"h":11702.8,"l":11696.9,"c":11701.6},{"t":"11:17","o":11701.9,"h":11701.9,"l":11696,"c":11696.3},{"t":"11:18","o":11695.6,"h":11697.8,"l":11692.9,"c":11693.9},{"t":"11:19","o":11694.2,"h":11696.7,"l":11691.1,"c":11693.1},{"t":"11:20","o":11693.3,"h":11695.7,"l":11691.4,"c":11693.3},{"t":"11:21","o":11694.7,"h":11695.9,"l":11693.6,"c":11694.7},{"t":"11:22","o":11694.3,"h":11695.9,"l":11693.1,"c":11694.3},{"t":"11:23","o":11693.5,"h":11695.9,"l":11692.9,"c":11693.5},{"t":"11:24","o":11693.1,"h":11694.5,"l":11689.4,"c":11689.5},{"t":"11:25","o":11690.2,"h":11691.7,"l":11687.7,"c":11688.4},{"t":"11:26","o":11688.5,"h":11690.7,"l":11687.4,"c":11688.5},{"t":"11:27","o":11688.5,"h":11689.4,"l":11683.6,"c":11686},{"t":"11:28","o":11685.2,"h":11688.6,"l":11685,"c":11686.7},{"t":"11:29","o":11687.7,"h":11693.2,"l":11687.6,"c":11691.7},{"t":"11:30","o":11691.7,"h":11695.3,"l":11691.1,"c":11691.7},{"t":"11:31","o":11692.1,"h":11696.8,"l":11689.7,"c":11693.3},{"t":"11:32","o":11693.7,"h":11697.8,"l":11693.3,"c":11695.9},{"t":"11:33","o":11696.6,"h":11696.6,"l":11692.3,"c":11694.6},{"t":"11:34","o":11694.2,"h":11695.9,"l":11689.7,"c":11690.6},{"t":"11:35","o":11690.6,"h":11693.2,"l":11689.8,"c":11690.6},{"t":"11:36","o":11690.6,"h":11692.1,"l":11686.9,"c":11689.9},{"t":"11:37","o":11690.6,"h":11691.7,"l":11689.8,"c":11691.7},{"t":"11:38","o":11692.3,"h":11697,"l":11688.7,"c":11695.2},{"t":"11:39","o":11695.2,"h":11695.2,"l":11692.3,"c":11694.6},{"t":"11:40","o":11694.1,"h":11695.2,"l":11693.1,"c":11694.1},{"t":"11:41","o":11693.7,"h":11695.6,"l":11693.5,"c":11695.2},{"t":"11:42","o":11695.6,"h":11695.6,"l":11692.3,"c":11693.5},{"t":"11:43","o":11693.5,"h":11693.5,"l":11690.7,"c":11693.5},{"t":"11:44","o":11693.7,"h":11695.9,"l":11691.7,"c":11693.7},{"t":"11:45","o":11693.7,"h":11696.3,"l":11693.5,"c":11695.9},{"t":"11:46","o":11695.9,"h":11698.6,"l":11695.6,"c":11698.1},{"t":"11:47","o":11698.3,"h":11700.4,"l":11695.6,"c":11696.3},{"t":"11:48","o":11695.5,"h":11697.8,"l":11693.3,"c":11693.7},{"t":"11:49","o":11693.8,"h":11695.6,"l":11693.5,"c":11694.5}
],"format":{"parse":{"t":"date:'%H:%M'"}}},"layer":[
{"mark":{"type":"rule","color":"#d6cf92","strokeWidth":1.8},"encoding":{"x":{"field":"t","type":"temporal","axis":null},"y":{"field":"l","type":"quantitative","axis":null},"y2":{"field":"h"}}},
{"mark":{"type":"rect","width":4.8,"stroke":"#e6df92","strokeWidth":1.3},"encoding":{"x":{"field":"t","type":"temporal","axis":null},"y":{"field":"o","type":"quantitative","axis":null},"y2":{"field":"c"},"fill":{"condition":[{"test":"datum.c>datum.o","value":"#008000"},{"test":"datum.c<datum.o","value":"#ff0000"}],"value":"#e6df92"}}}
]}
]},
{"layer":[
{"mark":{"type":"rect","color":"#bdd4ec"},"encoding":{"x":{"datum":6.4,"axis":null,"scale":{"domain":[0,1240],"nice":false,"zero":false}},"x2":{"datum":17},"y":{"datum":54,"axis":null,"scale":{"domain":[699,0],"nice":false,"zero":false}},"y2":{"datum":531}}},
{"mark":{"type":"rect","color":"#40508a"},"encoding":{"x":{"datum":17,"axis":null},"x2":{"datum":120},"y":{"datum":54,"axis":null},"y2":{"datum":178}}},
{"mark":{"type":"rect","color":"#bcc2d3"},"encoding":{"x":{"datum":1158,"axis":null},"x2":{"datum":1233},"y":{"datum":95.5,"axis":null},"y2":{"datum":112}}},
{"mark":{"type":"rect","color":"#f0e68c"},"encoding":{"x":{"datum":1158,"axis":null},"x2":{"datum":1233},"y":{"datum":112,"axis":null},"y2":{"datum":130}}},
{"mark":{"type":"rect","color":"#ffffff"},"encoding":{"x":{"datum":1158,"axis":null},"x2":{"datum":1233},"y":{"datum":130,"axis":null},"y2":{"datum":135}}},
{"mark":{"type":"rect","color":"#bcc2d3"},"encoding":{"x":{"datum":1158,"axis":null},"x2":{"datum":1233},"y":{"datum":135,"axis":null},"y2":{"datum":153}}},
{"mark":{"type":"rect","cornerRadius":3,"stroke":"#4e8f30","color":{"gradient":"linear","x1":0,"y1":0,"x2":0,"y2":1,"stops":[{"offset":0,"color":"#8cc45c"},{"offset":1,"color":"#3f9a2e"}]}},"encoding":{"x":{"datum":20.5,"axis":null},"x2":{"datum":43.5},"y":{"datum":24.5,"axis":null},"y2":{"datum":47.5}}},
{"mark":{"type":"text","text":"Xs","font":"DejaVu Sans","fontSize":15,"fontWeight":"bold","fontStyle":"italic","color":"#ffffff","align":"center","baseline":"middle"},"encoding":{"x":{"datum":32,"axis":null},"y":{"datum":36.5,"axis":null}}},
{"mark":{"type":"text","text":"FDAX Mar15 1 Min - EurexEquityIndexSchedule","font":"Open Sans","fontSize":16.9,"color":"#1a1a22","align":"left","baseline":"middle"},"encoding":{"x":{"datum":54,"axis":null},"y":{"datum":37,"axis":null}}},
{"mark":{"type":"rect","cornerRadius":3,"stroke":"#6f86a6","strokeWidth":1.2,"color":{"gradient":"linear","x1":0,"y1":0,"x2":0,"y2":1,"stops":[{"offset":0,"color":"#c9d9e9"},{"offset":0.5,"color":"#b3c9df"},{"offset":0.55,"color":"#8fa9c4"},{"offset":1,"color":"#b0c8df"}]}},"encoding":{"x":{"datum":1085.5,"axis":null},"x2":{"datum":1130},"y":{"datum":24.5,"axis":null},"y2":{"datum":48.5}}},
{"mark":{"type":"rect","cornerRadius":3,"stroke":"#6f86a6","strokeWidth":1.2,"color":{"gradient":"linear","x1":0,"y1":0,"x2":0,"y2":1,"stops":[{"offset":0,"color":"#c9d9e9"},{"offset":0.5,"color":"#b3c9df"},{"offset":0.55,"color":"#8fa9c4"},{"offset":1,"color":"#b0c8df"}]}},"encoding":{"x":{"datum":1135,"axis":null},"x2":{"datum":1179},"y":{"datum":24.5,"axis":null},"y2":{"datum":48.5}}},
{"mark":{"type":"rect","cornerRadius":3,"stroke":"#6e3040","strokeWidth":1.2,"color":{"gradient":"linear","x1":0,"y1":0,"x2":0,"y2":1,"stops":[{"offset":0,"color":"#d8897f"},{"offset":0.5,"color":"#cf6f60"},{"offset":0.55,"color":"#b93c26"},{"offset":1,"color":"#cf7a68"}]}},"encoding":{"x":{"datum":1184,"axis":null},"x2":{"datum":1229},"y":{"datum":24.5,"axis":null},"y2":{"datum":48.5}}},
{"mark":{"type":"rect","cornerRadius":1,"stroke":"#6a7f9a","strokeWidth":0.8,"color":"#eef1f5"},"encoding":{"x":{"datum":1100.5,"axis":null},"x2":{"datum":1116},"y":{"datum":37,"axis":null},"y2":{"datum":42.5}}},
{"mark":{"type":"rect","cornerRadius":1,"stroke":"#6a7f9a","strokeWidth":0.8,"color":"#eef1f5"},"encoding":{"x":{"datum":1149,"axis":null},"x2":{"datum":1165},"y":{"datum":30.5,"axis":null},"y2":{"datum":42}}},
{"mark":{"type":"rect","color":"#7f97b5"},"encoding":{"x":{"datum":1152.5,"axis":null},"x2":{"datum":1161.5},"y":{"datum":34,"axis":null},"y2":{"datum":38.5}}},
{"mark":{"type":"text","text":"X","font":"DejaVu Sans","fontSize":19,"fontWeight":"bold","color":"#f2ece8","align":"center","baseline":"middle"},"encoding":{"x":{"datum":1206.5,"axis":null},"y":{"datum":36.5,"axis":null}}}
]},
{"data":{"values":[{"p":11697.8},{"p":11694.5},{"p":11688.9}]},"mark":{"type":"text","align":"left","baseline":"middle","font":"DejaVu Sans","fontSize":16,"color":"#15110f"},"encoding":{"text":{"field":"p","type":"quantitative","format":".1f"},"y":{"field":"p","type":"quantitative","axis":null,"scale":{"domain":[11557.63,11723.08],"nice":false,"zero":false}},"x":{"datum":{"year":1900,"month":1,"date":1,"hours":11,"minutes":51,"seconds":41},"type":"temporal","axis":null,"scale":{"type":"time","nice":false,"domain":[{"year":1900,"month":1,"date":1,"hours":9,"minutes":42,"seconds":37},{"year":1900,"month":1,"date":1,"hours":12,"minutes":0,"seconds":24}]}}}},
{"layer":[
{"mark":{"type":"rect","color":"#007d00"},"encoding":{"x":{"datum":17,"axis":null,"scale":{"domain":[0,1240],"nice":false,"zero":false}},"x2":{"datum":120},"y":{"datum":4.5,"axis":null,"scale":{"domain":[-2.577,33.45],"reverse":true,"nice":false,"zero":false}},"y2":{"datum":5.5}}},
{"data":{"values":[{"row":1,"k":"O"},{"row":2,"k":"H"},{"row":3,"k":"L"},{"row":4,"k":"L"},{"row":5,"k":"C"},{"row":6,"k":"V"}]},"mark":{"type":"text","align":"left","baseline":"middle","font":"DejaVu Sans","fontSize":16,"color":"#dfe3ef"},"encoding":{"text":{"field":"k"},"x":{"datum":22,"axis":null},"y":{"field":"row","type":"quantitative","axis":null}}},
{"data":{"values":[{"row":1,"v":"11536.5"},{"row":2,"v":"11706.5"},{"row":3,"v":"11531.0"},{"row":4,"v":"11694.5"},{"row":6,"v":"51227"}]},"mark":{"type":"text","align":"left","baseline":"middle","font":"DejaVu Sans","fontSize":16,"color":"#dfe3ef"},"encoding":{"text":{"field":"v"},"x":{"datum":49,"axis":null},"y":{"field":"row","type":"quantitative","axis":null}}},
{"data":{"values":[{"row":5,"v":"+172.5"}]},"mark":{"type":"text","align":"right","baseline":"middle","font":"DejaVu Sans","fontSize":16,"color":"#f0f0b0"},"encoding":{"text":{"field":"v"},"x":{"datum":117,"axis":null},"y":{"field":"row","type":"quantitative","axis":null}}},
{"data":{"values":[{"row":25.67,"k":"Vol∆"}]},"mark":{"type":"text","align":"left","baseline":"middle","font":"DejaVu Sans","fontSize":15,"color":"#dfe3ef"},"encoding":{"text":{"field":"k"},"x":{"datum":20,"axis":null},"y":{"field":"row","type":"quantitative","axis":null}}}
]}
]}
